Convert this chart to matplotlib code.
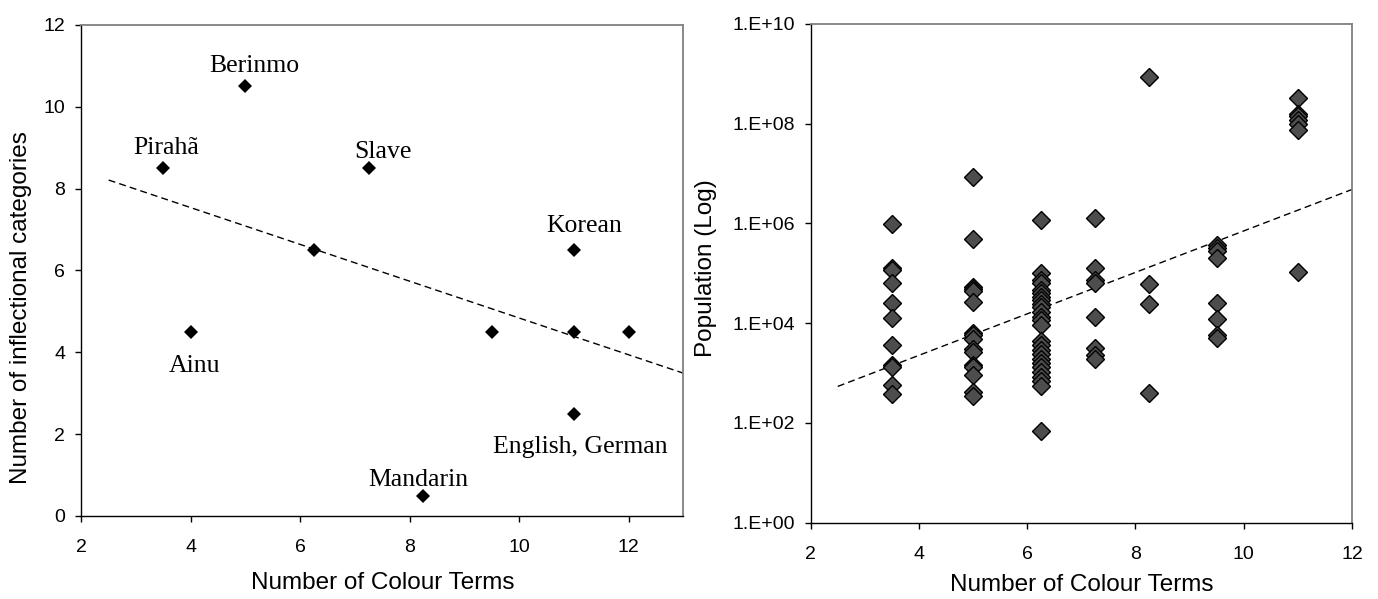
import numpy as np
import matplotlib.pyplot as plt
from matplotlib.ticker import FuncFormatter, FixedLocator

# left panel: colour terms vs inflectional categories
langs = ['Pirahã', 'Ainu', 'Berinmo', '', 'Slave', 'Mandarin', '', 'Korean', '', 'English, German', '']
terms = [3.5, 4, 5, 6.25, 7.25, 8.25, 9.5, 11, 11, 11, 12]
infl = [8.5, 4.5, 10.5, 6.5, 8.5, 0.5, 4.5, 6.5, 4.5, 2.5, 4.5]
infl_trend_x = [2.5, 13]
infl_trend_y = [8.21, 3.49]

# label offsets (pixels) relative to their point
label_off = {
    'Pirahã': (3, 20), 'Berinmo': (9, 20), 'Slave': (14, 16), 'Korean': (10, 24),
    'Ainu': (4, -34), 'English, German': (6, -33), 'Mandarin': (-5, 16),
}

# right panel: colour terms vs population
pop_terms = ([3.5] * 11 + [5] * 16 + [6.25] * 26 + [7.25] * 8 + [8.25] * 4
             + [9.5] * 8 + [11] * 7)
population = [
    980000, 126000, 117000, 65000, 26000, 13000, 3600, 1450, 1300, 575, 380,
    8.7e6, 480000, 54000, 49000, 44000, 27000, 6500, 5900, 4800, 3000, 2700,
    1450, 1300, 930, 410, 355,
    1.2e6, 102000, 74000, 65000, 47000, 40000, 34000, 29500, 24500, 21000,
    17000, 13500, 11500, 9100, 4300, 3600, 2900, 2400, 1900, 1600, 1300,
    1070, 850, 680, 540, 69,
    1.3e6, 129000, 74000, 65000, 13200, 3200, 2300, 1900,
    8.7e8, 62000, 24000, 400,
    370000, 316000, 282000, 200000, 25000, 12000, 5900, 5000,
    3.3e8, 1.6e8, 1.4e8, 1.2e8, 1.0e8, 7.4e7, 105000,
]
pop_trend_x = [2.5, 12]
pop_trend_y = [540, 4.8e6]

plt.rcParams['font.family'] = ['Liberation Sans', 'DejaVu Sans']

fig = plt.figure(figsize=(13.78, 5.99), dpi=100)
ax1 = fig.add_axes([0.059, 0.1386, 0.4369, 0.8197])
ax2 = fig.add_axes([0.5883, 0.1274, 0.3928, 0.8326])


def style_axes(ax):
    for s in ['top', 'right']:
        ax.spines[s].set_color('#808080')
        ax.spines[s].set_linewidth(1.3)
    for s in ['left', 'bottom']:
        ax.spines[s].set_color('black')
        ax.spines[s].set_linewidth(1.0)
    ax.tick_params(direction='out', length=4.5, width=1, labelsize=14,
                   top=False, right=False)
    ax.tick_params(axis='x', pad=12)
    ax.tick_params(axis='y', pad=7)
    ax.minorticks_off()


# left
ax1.plot(infl_trend_x, infl_trend_y, color='black', lw=1.0, dashes=(5, 3))
ax1.plot(terms, infl, 'D', color='black', ms=7, mew=0, ls='none')
for name, x, y in zip(langs, terms, infl):
    if name:
        ax1.annotate(name, (x, y), xytext=label_off[name], textcoords='offset pixels',
                     ha='center', va='center', fontsize=18.5, family='Liberation Serif')
ax1.set_xlim(2, 13)
ax1.set_ylim(0, 12)
ax1.xaxis.set_major_locator(FixedLocator([2, 4, 6, 8, 10, 12]))
ax1.yaxis.set_major_locator(FixedLocator([0, 2, 4, 6, 8, 10, 12]))
style_axes(ax1)
ax1.set_xlabel('Number of Colour Terms', fontsize=17.5, va='center')
ax1.xaxis.set_label_coords(0.5, -0.136)
ax1.set_ylabel('Number of inflectional categories', fontsize=17.5, va='center')
ax1.yaxis.set_label_coords(-0.100, 0.425)

# right
ax2.set_yscale('log')
ax2.plot(pop_trend_x, pop_trend_y, color='black', lw=1.0, dashes=(5, 3))
ax2.plot(pop_terms, population, 'D', color='#4d4d4d', mec='black', mew=1.0,
         ms=9.5, ls='none')
ax2.set_xlim(2, 12)
ax2.set_ylim(1, 1e10)
ax2.xaxis.set_major_locator(FixedLocator([2, 4, 6, 8, 10, 12]))
ax2.yaxis.set_major_locator(FixedLocator([10.0 ** k for k in range(0, 11, 2)]))
ax2.yaxis.set_major_formatter(FuncFormatter(lambda v, _: '1.E+%02d' % round(np.log10(v))))
style_axes(ax2)
ax2.set_xlabel('Number of Colour Terms', fontsize=17.5, va='center')
ax2.xaxis.set_label_coords(0.5, -0.125)
ax2.set_ylabel('Population (Log)', fontsize=17.5, va='center')
ax2.yaxis.set_label_coords(-0.193, 0.51)

fig.savefig('out.png', dpi=100)
